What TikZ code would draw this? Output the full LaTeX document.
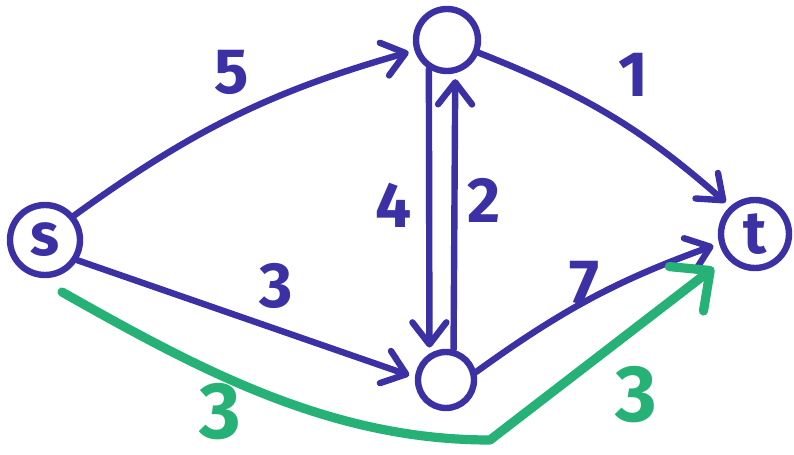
\documentclass[tikz,border=0pt]{standalone}
\usepackage{fontspec}
\setmainfont{Fira Sans}
\usetikzlibrary{arrows.meta}
\definecolor{ink}{RGB}{60,48,165}
\definecolor{flow}{RGB}{38,178,118}

\begin{document}
\begin{tikzpicture}[x=0.5pt, y=-0.5pt,
  vtx/.style={draw=ink, text=ink, circle, line width=3.2pt, inner sep=0pt, minimum size=#1,
    font=\fontsize{30}{30}\selectfont\bfseries},
  link/.style={draw=ink, line width=3.2pt, line cap=round,
    -{Straight Barb[length=11pt, width=17pt, round]}, shorten >=3pt},
  flowlink/.style={draw=flow, line width=4.6pt, line cap=round, line join=round,
    -{Straight Barb[length=15pt, width=28pt, round]}, shorten >=8pt},
  wt/.style={text=ink, inner sep=0pt, font=\fontsize{32}{32}\selectfont\bfseries},
  flowwt/.style={text=flow, inner sep=0pt, font=\fontsize{40}{40}\selectfont\bfseries}]
  \useasboundingbox (0,0) rectangle (794,455);
  % vertices
  \node[vtx=35pt] (s) at (45,240) {s};
  \node[vtx=31pt] (top) at (447,40) {};
  \node[vtx=28pt] (bot) at (446,380) {};
  \node[vtx=34pt] (t) at (755,234) {t};
  % capacities
  \draw[link] (s.40) to[bend left=10] (top.198);
  \draw[link] (top.-22) to[bend left=10] (t.132);
  \draw[link] (s.-32) -- (bot.175);
  \draw[link] (bot.15) to[bend left=8] (t.195);
  \draw[link] (top.238) -- (bot.122);
  \draw[link] (bot.76) -- (top.284);
  \node[wt] (w5) at (232,72) {5};
  \node[wt] (w1) at (633,75) {1};
  \node[wt] (w3) at (276,286) {3};
  \node[wt] (w7) at (584,283) {7};
  \node[wt] (w4) at (394,205) {4};
  \node[wt] (w2) at (484,200) {2};
  % augmenting path
  \coordinate (g0) at (62,292);
  \coordinate (g1) at (490,440);
  \draw[flowlink] (g0) .. controls (200,370) and (330,440) .. (g1) -- (t.220);
  \node[flowwt] (f1) at (220,412) {3};
  \node[flowwt] (f2) at (636,395) {3};
\end{tikzpicture}
\end{document}
